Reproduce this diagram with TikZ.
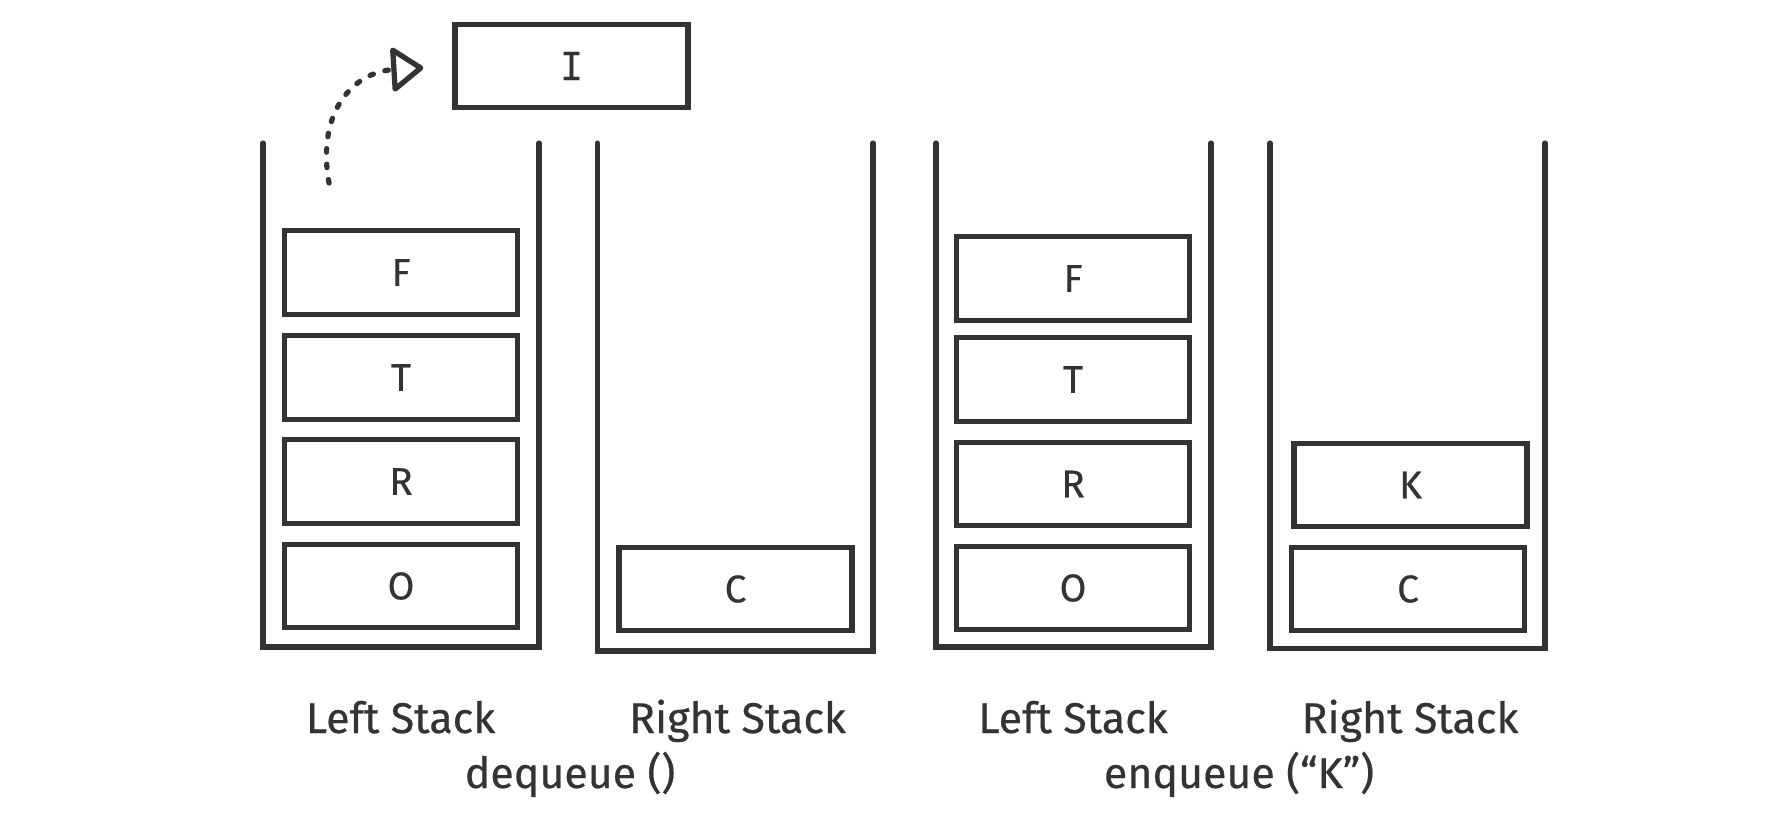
\documentclass[tikz,border=0pt]{standalone}
\usepackage{fontspec}
\setmainfont{Fira Sans}[FakeBold=0.5]
\newfontfamily\monofont{DejaVu Sans Mono}[FakeBold=0.3]
\usetikzlibrary{arrows.meta}
\definecolor{ink}{HTML}{333333}
\tikzset{
  item/.style={draw=ink, line width=1.5pt, minimum width=2.33cm, minimum height=0.835cm,
    inner sep=0pt, text=ink, font=\fontsize{11}{13}\selectfont},
  wall/.style={draw=ink, line width=1.45pt, line cap=round},
  caption/.style={anchor=base, text=ink, font=\fontsize{12.2}{14}\selectfont},
  popArrow/.style={ink, line width=1.5pt, line cap=round, dash pattern=on 0.035cm off 0.12cm,
    -{Triangle[open, round, length=0.34cm, width=0.48cm]}}
}

\begin{document}
\begin{tikzpicture}[x=0.01cm, y=-0.01cm]
    \useasboundingbox (0,0) rectangle (1776,812);

    % the four stacks
    \draw[wall] (263,143) -- (263,647) -- (539,647) -- (539,143);
    \draw[wall] (597.5,143) -- (597.5,651) -- (873,651) -- (873,143);
    \draw[wall] (936,143) -- (936,647) -- (1211,647) -- (1211,143);
    \draw[wall] (1270,143) -- (1270,648.5) -- (1545,648.5) -- (1545,143);

    % dequeue: left and right stack
    \node[item] (leftF) at (401,272.5) {F};
    \node[item] (leftT) at (401,377.5) {T};
    \node[item] (leftR) at (401,481.5) {R};
    \node[item] (leftO) at (401,586) {O};
    \node[item] (rightC) at (735.5,589) {C};

    % popped item
    \node[item] (itemI) at (571.5,66) {\monofont I};
    \coordinate (lift) at (329,183);
    \draw[popArrow, shorten >=0.29cm] (lift) .. controls (316,110) and (355,72) .. (itemI.west);

    % enqueue: left and right stack
    \node[item] (leftFb) at (1073,278.5) {F};
    \node[item] (leftTb) at (1073,379.5) {T};
    \node[item] (leftRb) at (1073,484) {R};
    \node[item] (leftOb) at (1073,588) {O};
    \node[item] (rightKb) at (1410.5,485) {K};
    \node[item] (rightCb) at (1408,589) {C};

    % captions
    \node[caption] (capLeft) at (400.5,733) {Left Stack};
    \node[caption] (capRight) at (737.5,733) {Right Stack};
    \node[caption] (capLeftb) at (1073,733) {Left Stack};
    \node[caption] (capRightb) at (1410,733) {Right Stack};
    \node[caption] (capDeq) at (570,788) {dequeue ()};
    \node[caption] (capEnq) at (1239,788) {enqueue (“K”)};

\end{tikzpicture}
\end{document}
